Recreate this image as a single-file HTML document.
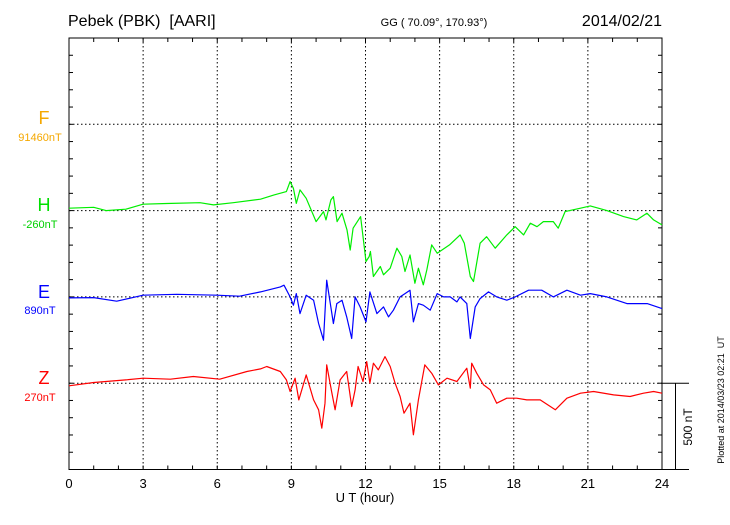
<!DOCTYPE html>
<html><head><meta charset="utf-8"><style>
body{margin:0;background:#fff;width:730px;height:520px;overflow:hidden}
svg{font-family:"Liberation Sans",sans-serif}
</style></head><body>
<svg id="chart" width="730" height="520" viewBox="0 0 730 520" xmlns="http://www.w3.org/2000/svg">
<text x="68" y="26" font-size="16">Pebek (PBK)&#160; [AARI]</text>
<text x="434" y="26" font-size="11" text-anchor="middle">GG ( 70.09°, 170.93°)</text>
<text x="662" y="26" font-size="16" text-anchor="end">2014/02/21</text>
<g id="grid"></g>
<g id="axes"></g>
<g id="series"></g>
<text x="44" y="124" font-size="18" fill="#f5a800" text-anchor="middle">F</text>
<text x="40" y="141" font-size="11" fill="#f5a800" text-anchor="middle">91460nT</text>
<text x="44" y="211" font-size="18" fill="#00e000" text-anchor="middle">H</text>
<text x="40" y="228" font-size="11" fill="#00d000" text-anchor="middle">-260nT</text>
<text x="44" y="298" font-size="18" fill="#0000ff" text-anchor="middle">E</text>
<text x="40" y="314" font-size="11" fill="#0000ff" text-anchor="middle">890nT</text>
<text x="44" y="384" font-size="18" fill="#ff0000" text-anchor="middle">Z</text>
<text x="40" y="401" font-size="11" fill="#ff0000" text-anchor="middle">270nT</text>
<text x="365" y="502" font-size="13" text-anchor="middle">U T (hour)</text>
<g stroke="#000" stroke-width="1">
<line x1="662" y1="383.2" x2="689" y2="383.2"/><line x1="662" y1="469.5" x2="689" y2="469.5"/><line x1="675.5" y1="383.2" x2="675.5" y2="469.5"/>
</g>
<text transform="translate(692,427) rotate(-90)" font-size="12" text-anchor="middle">500 nT</text>
<text transform="translate(724,400) rotate(-90)" font-size="9" text-anchor="middle">Plotted at 2014/03/23 02:21&#160; UT</text>
</svg>
<script>
const xTicks=[0,3,6,9,12,15,18,21,24];
const hH=[0,1,1.5,2.3,3,3.95,5.3,5.85,6.65,7.75,8.3,8.8,8.95,9.08,9.2,9.35,9.6,10,10.3,10.4,10.6,10.7,10.85,11.05,11.25,11.38,11.5,11.8,12.02,12.15,12.2,12.32,12.6,12.73,13,13.27,13.47,13.6,13.8,14,14.14,14.34,14.48,14.68,14.9,15.4,15.83,16,16.24,16.37,16.64,16.9,17.25,17.72,18.06,18.4,18.67,18.94,19.2,19.6,19.8,20.08,20.7,21.1,21.77,22.44,22.98,23.39,23.66,24];
const vH=[14,19,0,8,37,41,46,33,46,66,91,110,168,129,42,120,71,-64,-6,-54,62,81,-64,-15,-112,-228,-102,-35,-295,-266,-237,-382,-324,-372,-334,-218,-266,-353,-257,-421,-334,-430,-344,-199,-247,-199,-141,-189,-382,-411,-189,-151,-218,-141,-93,-141,-73,-93,-64,-64,-102,-6,14,27,0,-35,-54,-15,-54,-83];
const hE=[0,1,1.93,3,4.36,5.98,6.9,7.75,8.55,8.7,8.95,9.08,9.2,9.35,9.6,9.9,10.1,10.3,10.43,10.7,10.84,11.05,11.24,11.44,11.58,11.78,12.02,12.18,12.46,12.73,12.93,13.13,13.4,13.6,13.8,13.94,14.14,14.34,14.62,14.9,15.16,15.43,15.7,15.83,16.1,16.24,16.44,16.64,16.98,17.31,17.72,18.06,18.6,19.13,19.6,20.15,20.7,21.1,21.77,22.58,23.4,24];
const vE=[-6,-4,-25,10,15,10,4,29,58,68,0,-48,19,-97,10,-19,-154,-251,97,-154,-39,-19,-116,-241,0,-58,-145,29,-97,-58,-116,-77,0,19,39,-145,-39,-48,-77,19,0,0,-29,0,-39,-241,-58,-10,29,0,-19,0,39,39,0,39,10,19,0,-39,-39,-68];
const hZ=[0,1,2.3,3,4.1,5.03,6.1,7.2,7.75,8,8.55,8.8,8.95,9.15,9.3,9.6,9.9,10.1,10.23,10.36,10.43,10.63,10.77,10.97,11.24,11.44,11.58,11.7,11.9,12.05,12.18,12.32,12.52,12.79,13,13.2,13.4,13.56,13.8,13.94,14.14,14.4,14.68,14.95,15.3,15.7,16.1,16.24,16.3,16.5,16.78,17.05,17.31,17.72,18.12,18.53,19.07,19.68,20.15,20.7,21.23,22.04,22.71,23.25,23.66,24];
const vZ=[-15,4,19,29,23,39,23,68,83,97,68,19,-48,29,-97,48,-97,-154,-261,-116,106,-48,-154,19,68,-135,-39,97,10,125,0,116,77,154,97,0,-77,-174,-116,-299,-97,106,58,-10,29,10,87,-29,116,58,-10,-39,-116,-87,-87,-97,-97,-154,-87,-58,-48,-68,-77,-58,-48,-58];

const NS='http://www.w3.org/2000/svg';
const X0=69,X1=662,TOP=38,BOT=469.5,STEP=86.3;
function xs(h){return X0+(X1-X0)*h/24;}
function ys(v,base){return base-v*STEP/500;}
function mk(tag,attrs,parent){const e=document.createElementNS(NS,tag);for(const k in attrs)e.setAttribute(k,attrs[k]);parent.appendChild(e);return e;}
const grid=document.getElementById('grid'),axes=document.getElementById('axes'),series=document.getElementById('series');
for(let k=1;k<=4;k++){
  const l=mk('line',{x1:X0,x2:X1,y1:TOP+STEP*k,y2:TOP+STEP*k,stroke:'#000','stroke-width':1,'stroke-dasharray':'1.5,2.5'},grid);
  
  
}
xTicks.forEach(t=>{
  if(t>0&&t<24){const l=mk('line',{x1:xs(t),x2:xs(t),y1:TOP,y2:BOT,stroke:'#000','stroke-width':1,'stroke-dasharray':'1.5,2.5'},grid);
  
  }
  const tx=mk('text',{x:xs(t),y:488,'font-size':13,'text-anchor':'middle'},axes);tx.textContent=t;
  
  
});
const fr=mk('rect',{x:X0,y:TOP,width:X1-X0,height:BOT-TOP,fill:'none',stroke:'#000','stroke-width':1},axes);


for(let h=1;h<24;h++){
  mk('line',{x1:xs(h),x2:xs(h),y1:TOP,y2:TOP+4,stroke:'#000'},axes);
  mk('line',{x1:xs(h),x2:xs(h),y1:BOT,y2:BOT-4,stroke:'#000'},axes);
}
for(let k=1;k<25;k++){
  const y=TOP+k*STEP/5;
  mk('line',{x1:X0,x2:X0+4,y1:y,y2:y,stroke:'#000'},axes);
  mk('line',{x1:X1,x2:X1-4,y1:y,y2:y,stroke:'#000'},axes);
}
function draw(hs,vs,base,color,name){
  const pts=hs.map((h,i)=>xs(h).toFixed(1)+','+ys(vs[i],base).toFixed(1)).join(' ');
  const p=mk('polyline',{points:pts,fill:'none',stroke:color,'stroke-width':1.2,'stroke-linejoin':'round'},series);
  
  
}
draw(hH,vH,TOP+STEP*2,'#00ee00','h-component-line');
draw(hE,vE,TOP+STEP*3,'#0000ff','e-component-line');
draw(hZ,vZ,TOP+STEP*4,'#ff0000','z-component-line');
</script>
</body></html>
